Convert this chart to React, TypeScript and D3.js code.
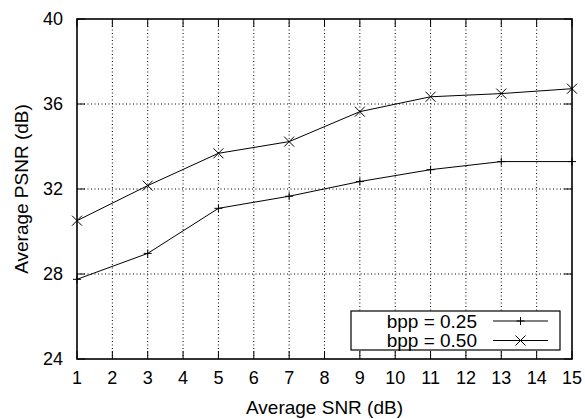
import React from "react";
import * as d3 from "d3";

const snr = [1, 3, 5, 7, 9, 11, 13, 15];
const bpp025 = [27.75, 28.97, 31.09, 31.66, 32.35, 32.91, 33.29, 33.29];
const bpp050 = [30.51, 32.16, 33.68, 34.23, 35.64, 36.34, 36.49, 36.72];
const xTicks = d3.range(1, 16);
const yTicks = [24, 28, 32, 36, 40];
const seriesNames = ["bpp = 0.25", "bpp = 0.50"];

const W = 585, H = 419;
const L = 77, R = 572, T = 19, B = 359;
const FONT = "'Liberation Sans', Arial, Helvetica, sans-serif";

export default function App() {
  const x = d3.scaleLinear().domain([1, 15]).range([L, R]);
  const y = d3.scaleLinear().domain([24, 40]).range([B, T]);
  const line = d3.line<number>().x((_, i) => x(snr[i])).y((d) => y(d));
  const tick = 8;
  const plus = (cx: number, cy: number, k: string) => (
    <path key={k} d={`M${cx - 4},${cy}H${cx + 4}M${cx},${cy - 4}V${cy + 4}`} stroke="#000" strokeWidth={1} />
  );
  const cross = (cx: number, cy: number, k: string) => (
    <path key={k} d={`M${cx - 5},${cy - 5}L${cx + 5},${cy + 5}M${cx - 5},${cy + 5}L${cx + 5},${cy - 5}`} stroke="#000" strokeWidth={1} />
  );
  const legX = 351, legY = 311, legW = 209, legH = 39;
  const rows = [321, 340.5];
  return (
    <svg width={W} height={H} style={{ position: "absolute", left: 0, top: 0 }} fontFamily={FONT}>
      <rect width={W} height={H} fill="#fff" />
      {/* grid */}
      {xTicks.slice(1, -1).map((t) => (
        <line key={"gx" + t} x1={x(t)} x2={x(t)} y1={T} y2={B} stroke="#000" strokeWidth={1} strokeDasharray="1,2.5" />
      ))}
      {yTicks.slice(1, -1).map((t) => (
        <line key={"gy" + t} x1={L} x2={R} y1={y(t)} y2={y(t)} stroke="#000" strokeWidth={1} strokeDasharray="1,2.5" />
      ))}
      {/* series */}
      <path d={line(bpp025) || ""} fill="none" stroke="#000" strokeWidth={1} />
      <path d={line(bpp050) || ""} fill="none" stroke="#000" strokeWidth={1} />
      {bpp025.map((v, i) => plus(x(snr[i]), y(v), "p" + i))}
      {bpp050.map((v, i) => cross(x(snr[i]), y(v), "c" + i))}
      {/* legend */}
      <rect x={legX} y={legY} width={legW} height={legH} fill="#fff" stroke="#000" strokeWidth={1.2} />
      {seriesNames.map((n, i) => (
        <g key={n}>
          <text x={477} y={rows[i]} dy="0.36em" textAnchor="end" fontSize={19}>{n}</text>
          <line x1={493} x2={548} y1={rows[i]} y2={rows[i]} stroke="#000" strokeWidth={1} />
          {i === 0 ? plus(520.5, rows[i], "lp") : cross(520.5, rows[i], "lc")}
        </g>
      ))}
      {/* ticks */}
      {xTicks.map((t) => (
        <g key={"tx" + t}>
          <line x1={x(t)} x2={x(t)} y1={B} y2={B - tick} stroke="#000" strokeWidth={1} />
          <line x1={x(t)} x2={x(t)} y1={T} y2={T + tick} stroke="#000" strokeWidth={1} />
          <text x={x(t)} y={384} textAnchor="middle" fontSize={18}>{t}</text>
        </g>
      ))}
      {yTicks.map((t) => (
        <g key={"ty" + t}>
          <line x1={L} x2={L + tick} y1={y(t)} y2={y(t)} stroke="#000" strokeWidth={1} />
          <line x1={R} x2={R - tick} y1={y(t)} y2={y(t)} stroke="#000" strokeWidth={1} />
          <text x={63} y={y(t)} dy="0.36em" textAnchor="end" fontSize={18}>{t}</text>
        </g>
      ))}
      {/* frame */}
      <rect x={L} y={T} width={R - L} height={B - T} fill="none" stroke="#000" strokeWidth={1.6} />
      {/* titles */}
      <text x={(L + R) / 2} y={414} textAnchor="middle" fontSize={19}>Average SNR (dB)</text>
      <text transform={`translate(28,${(T + B) / 2}) rotate(-90)`} textAnchor="middle" fontSize={19}>Average PSNR (dB)</text>
    </svg>
  );
}
